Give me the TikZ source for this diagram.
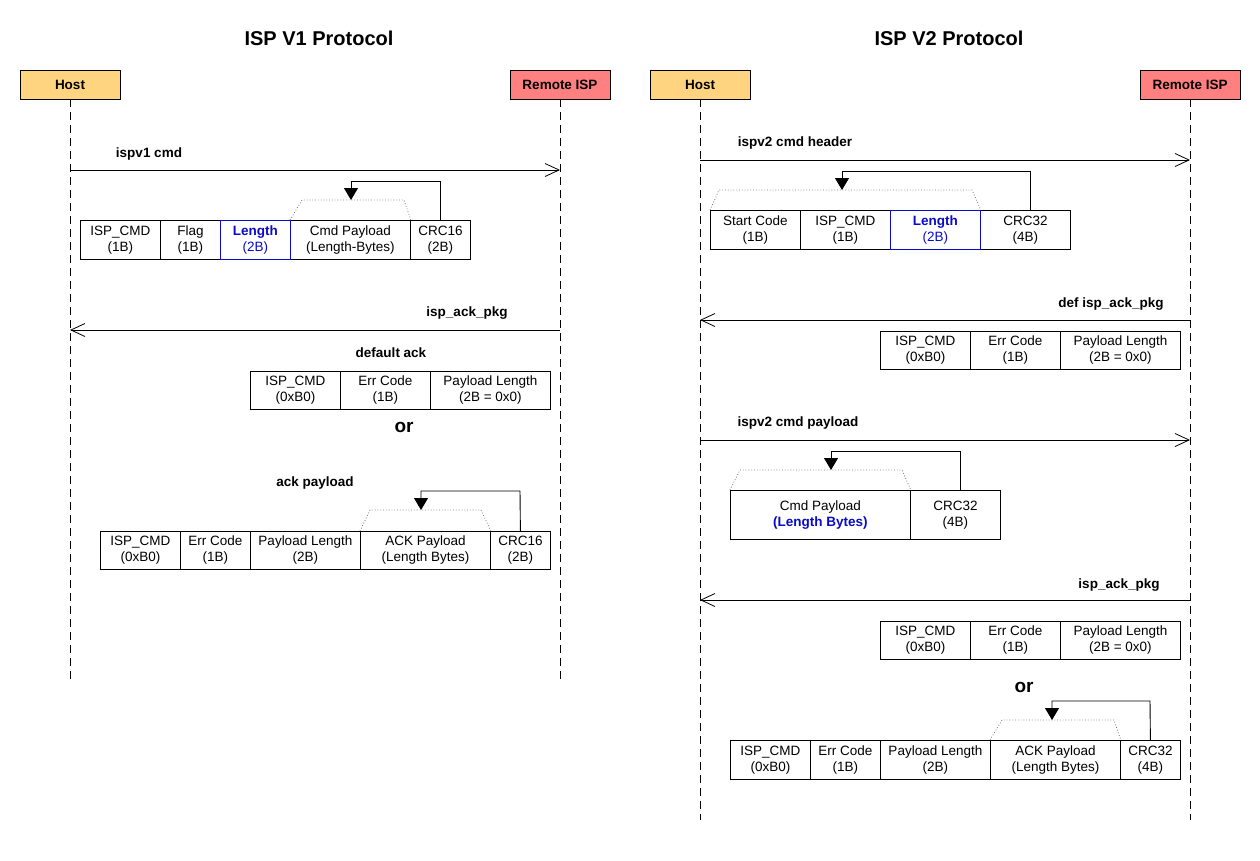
\documentclass[tikz,border=0pt]{standalone}
\usepackage{fontspec}
\setmainfont{Liberation Sans}
\usetikzlibrary{arrows.meta}
\definecolor{hostc}{RGB}{255,212,128}
\definecolor{remc}{RGB}{255,128,128}
\definecolor{lenblue}{RGB}{10,10,200}
\definecolor{trapc}{RGB}{120,120,120}
\begin{document}
\begin{tikzpicture}[x=1pt,y=-1pt,
  actor/.style={draw,line width=0.8pt,minimum width=100pt,minimum height=29pt,inner sep=0pt,font=\fontsize{13.5}{16}\selectfont\bfseries},
  lifeln/.style={draw,line width=0.8pt,dash pattern=on 8pt off 5pt},
  msg/.style={line width=0.8pt,-{Straight Barb[length=14pt,width=13pt,line width=0.8pt]}},
  fld/.style={draw,line width=0.8pt,anchor=north west,inner sep=0pt,align=center,font=\fontsize{13.5}{16}\selectfont},
  blfld/.style={fld,draw=lenblue,text=lenblue},
  trap/.style={draw=trapc,line width=0.8pt,dotted},
  fb/.style={line width=0.9pt,-{Triangle[length=12pt,width=14pt]}},
  lbl/.style={inner sep=0pt,font=\fontsize{13.5}{16}\selectfont\bfseries},
  ttl/.style={inner sep=0pt,font=\fontsize{20}{24}\selectfont\bfseries},
  ortxt/.style={inner sep=0pt,font=\fontsize{19}{22}\selectfont\bfseries}]
\useasboundingbox (0,0) rectangle (1260,860);
\fill[white] (0,0) rectangle (1260,860);

% ================= ISP V1 =================
\node[ttl] (t1) at (319,38) {ISP V1 Protocol};
\node[actor,fill=hostc] (h1) at (70,84.5) {Host};
\node[actor,fill=remc] (r1) at (560,84.5) {Remote ISP};
\coordinate (h1e) at (70,680);
\coordinate (r1e) at (560,680);
\draw[lifeln] (h1.south) -- (h1e);
\draw[lifeln] (r1.south) -- (r1e);

% ispv1 cmd
\coordinate (m1a) at (70,170);
\coordinate (m1b) at (560,170);
\draw[msg] (m1a) -- (m1b);
\node[lbl] (l1) at (149,154) {ispv1 cmd};

\node[fld,minimum width=80pt,minimum height=39pt] (a1) at (80,220) {ISP\_CMD\\(1B)};
\node[fld,minimum width=60pt,minimum height=39pt] (a2) at (160,220) {Flag\\(1B)};
\node[fld,minimum width=120pt,minimum height=39pt] (a4) at (290,220) {Cmd Payload\\(Length-Bytes)};
\node[fld,minimum width=60pt,minimum height=39pt] (a5) at (410,220) {CRC16\\(2B)};
\node[blfld,minimum width=70pt,minimum height=39pt] (a3) at (220,220) {\textbf{Length}\\(2B)};
\draw[trap] (a4.north west) -- (302,200) -- (404,200) -- (a4.north east);
\coordinate (p1) at (351,200);
\draw[fb] (a5.north -| 440,0) -- (440,181) -| (p1);

% isp_ack_pkg
\coordinate (m2a) at (560,330);
\coordinate (m2b) at (70,330);
\draw[msg] (m2a) -- (m2b);
\node[lbl] (l2) at (467,313) {isp\_ack\_pkg};
\node[lbl] (l3) at (391,353) {default ack};
\node[fld,minimum width=90pt,minimum height=38pt] (b1) at (250,371) {ISP\_CMD\\(0xB0)};
\node[fld,minimum width=90pt,minimum height=38pt] (b2) at (340,371) {Err Code\\(1B)};
\node[fld,minimum width=120pt,minimum height=38pt] (b3) at (430,371) {Payload Length\\(2B = 0x0)};
\node[ortxt] (o1) at (404,427) {or};
\node[lbl] (l4) at (315,483) {ack payload};
\node[fld,minimum width=80pt,minimum height=38pt] (c1) at (100,531) {ISP\_CMD\\(0xB0)};
\node[fld,minimum width=70pt,minimum height=38pt] (c2) at (180,531) {Err Code\\(1B)};
\node[fld,minimum width=110pt,minimum height=38pt] (c3) at (250,531) {Payload Length\\(2B)};
\node[fld,minimum width=130pt,minimum height=38pt] (c4) at (360,531) {ACK Payload\\(Length Bytes)};
\node[fld,minimum width=60pt,minimum height=38pt] (c5) at (490,531) {CRC16\\(2B)};
\draw[trap] (c4.north west) -- (370,510) -- (481,510) -- (c4.north east);
\coordinate (p2) at (421,510);
\draw[fb] (c5.north) -- (520,491) -| (p2);

% ================= ISP V2 =================
\node[ttl] (t2) at (949,38) {ISP V2 Protocol};
\node[actor,fill=hostc] (h2) at (700,84.5) {Host};
\node[actor,fill=remc] (r2) at (1190,84.5) {Remote ISP};
\coordinate (h2e) at (700,820);
\coordinate (r2e) at (1190,820);
\draw[lifeln] (h2.south) -- (h2e);
\draw[lifeln] (r2.south) -- (r2e);

% header
\coordinate (n1a) at (700,160);
\coordinate (n1b) at (1190,160);
\draw[msg] (n1a) -- (n1b);
\node[lbl] (k1) at (795,143) {ispv2 cmd header};
\node[fld,minimum width=90pt,minimum height=39pt] (d1) at (710,210) {Start Code\\(1B)};
\node[fld,minimum width=90pt,minimum height=39pt] (d2) at (800,210) {ISP\_CMD\\(1B)};
\node[fld,minimum width=90pt,minimum height=39pt] (d4) at (980,210) {CRC32\\(4B)};
\node[blfld,minimum width=90pt,minimum height=39pt] (d3) at (890,210) {\textbf{Length}\\(2B)};
\draw[trap] (d1.north west) -- (719,190) -- (972,190) -- (d3.north east);
\coordinate (p3) at (842,190);
\draw[fb] (d4.north -| 1030,0) -- (1030,171) -| (p3);

% def isp_ack_pkg
\coordinate (n2a) at (1190,320);
\coordinate (n2b) at (700,320);
\draw[msg] (n2a) -- (n2b);
\node[lbl] (k2) at (1111,304) {def isp\_ack\_pkg};
\node[fld,minimum width=90pt,minimum height=38pt] (e1) at (880,331) {ISP\_CMD\\(0xB0)};
\node[fld,minimum width=90pt,minimum height=38pt] (e2) at (970,331) {Err Code\\(1B)};
\node[fld,minimum width=120pt,minimum height=38pt] (e3) at (1060,331) {Payload Length\\(2B = 0x0)};

% payload
\coordinate (n3a) at (700,440);
\coordinate (n3b) at (1190,440);
\draw[msg] (n3a) -- (n3b);
\node[lbl] (k3) at (798,423) {ispv2 cmd payload};
\node[fld,minimum width=180pt,minimum height=49pt] (f1) at (730,490) {Cmd Payload\\{\color{lenblue}\bfseries(Length Bytes)}};
\node[fld,minimum width=90pt,minimum height=49pt] (f2) at (910,490) {CRC32\\(4B)};
\draw[trap] (f1.north west) -- (740,470) -- (902,470) -- (f1.north east);
\coordinate (p4) at (831,470);
\draw[fb] (f2.north -| 960,0) -- (960,451) -| (p4);

% isp_ack_pkg
\coordinate (n4a) at (1190,600);
\coordinate (n4b) at (700,600);
\draw[msg] (n4a) -- (n4b);
\node[lbl] (k4) at (1119,585) {isp\_ack\_pkg};
\node[fld,minimum width=90pt,minimum height=38pt] (g1) at (880,621) {ISP\_CMD\\(0xB0)};
\node[fld,minimum width=90pt,minimum height=38pt] (g2) at (970,621) {Err Code\\(1B)};
\node[fld,minimum width=120pt,minimum height=38pt] (g3) at (1060,621) {Payload Length\\(2B = 0x0)};
\node[ortxt] (o2) at (1024,687) {or};
\node[fld,minimum width=80pt,minimum height=39pt] (q1) at (730,740) {ISP\_CMD\\(0xB0)};
\node[fld,minimum width=70pt,minimum height=39pt] (q2) at (810,740) {Err Code\\(1B)};
\node[fld,minimum width=110pt,minimum height=39pt] (q3) at (880,740) {Payload Length\\(2B)};
\node[fld,minimum width=130pt,minimum height=39pt] (q4) at (990,740) {ACK Payload\\(Length Bytes)};
\node[fld,minimum width=60pt,minimum height=39pt] (q5) at (1120,740) {CRC32\\(4B)};
\draw[trap] (q4.north west) -- (1002,720) -- (1114,720) -- (q4.north east);
\coordinate (p5) at (1052,720);
\draw[fb] (q5.north) -- (1150,701) -| (p5);
\end{tikzpicture}
\end{document}
